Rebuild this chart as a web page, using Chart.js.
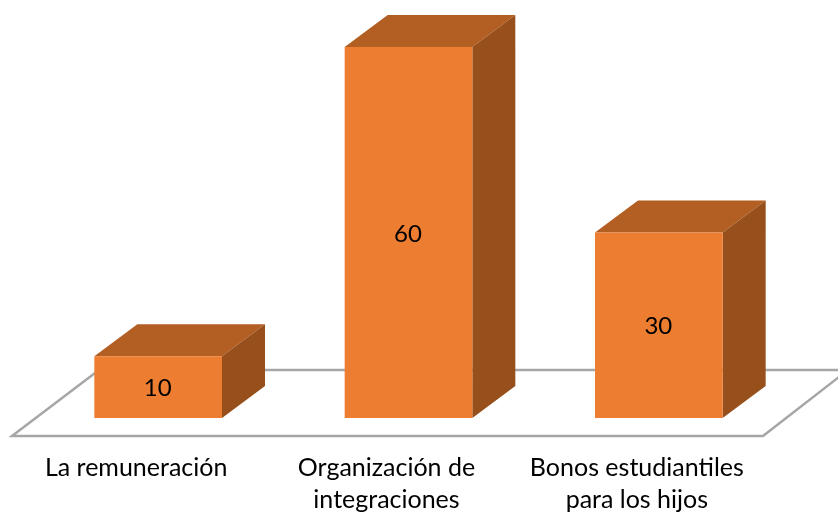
<!DOCTYPE html>
<html>
<head>
<meta charset="utf-8">
<style>
  html, body { margin: 0; padding: 0; background: #fff; }
  canvas { display: block; }
</style>
<script src="https://cdn.jsdelivr.net/npm/chart.js@4"></script>
</head>
<body>
<canvas id="chart" width="838" height="512"></canvas>
<script>
const categories = [['La remuneración'], ['Organización de', 'integraciones'], ['Bonos estudiantiles', 'para los hijos']];
const values = [10, 60, 30];

const depthX = 43;
const depthY = 32;

// 3D look: floor behind the bars, then top and side faces of each bar
const boxes = {
    id: 'boxes',
    beforeDatasetsDraw(chart) {
        const ctx = chart.ctx;
        const area = chart.chartArea;
        const y0 = chart.scales.y.getPixelForValue(0);
        ctx.save();
        ctx.strokeStyle = '#a6a6a6';
        ctx.lineWidth = 2.5;
        ctx.beginPath();
        ctx.moveTo(area.left + 66, y0 - 48);
        ctx.lineTo(area.left - 21, y0 + 18);
        ctx.lineTo(area.right - 21, y0 + 18);
        ctx.lineTo(area.right + 64, y0 - 48);
        ctx.closePath();
        ctx.stroke();
        chart.getDatasetMeta(0).data.forEach(bar => {
            const left = bar.x - bar.width / 2;
            const right = bar.x + bar.width / 2;
            ctx.fillStyle = '#b35e23';
            ctx.beginPath();
            ctx.moveTo(left, bar.y);
            ctx.lineTo(left + depthX, bar.y - depthY);
            ctx.lineTo(right + depthX, bar.y - depthY);
            ctx.lineTo(right, bar.y);
            ctx.closePath();
            ctx.fill();
            ctx.fillStyle = '#97501c';
            ctx.beginPath();
            ctx.moveTo(right, bar.y);
            ctx.lineTo(right + depthX, bar.y - depthY);
            ctx.lineTo(right + depthX, y0 - depthY);
            ctx.lineTo(right, y0);
            ctx.closePath();
            ctx.fill();
        });
        ctx.restore();
    },
    afterDatasetsDraw(chart) {
        const ctx = chart.ctx;
        const y0 = chart.scales.y.getPixelForValue(0);
        ctx.save();
        ctx.fillStyle = '#000';
        ctx.font = '24px Lato';
        ctx.textAlign = 'center';
        ctx.textBaseline = 'middle';
        chart.getDatasetMeta(0).data.forEach((bar, i) => {
            ctx.fillText(values[i], bar.x - 0.5, (bar.y + y0) / 2 + 1.5);
        });
        ctx.restore();
    }
};

new Chart(document.getElementById('chart'), {
    type: 'bar',
    data: {
        labels: categories,
        datasets: [{
            data: values,
            backgroundColor: '#ed7d31',
            barPercentage: 0.51,
            categoryPercentage: 1
        }]
    },
    options: {
        responsive: false,
        animation: false,
        layout: { padding: { left: 33, right: 54, top: 47, bottom: 0 } },
        plugins: { legend: { display: false }, tooltip: { enabled: false } },
        scales: {
            x: {
                grid: { display: false },
                border: { display: false },
                ticks: {
                    color: '#000',
                    font: { family: 'Lato', size: 25, lineHeight: 1.28 },
                    maxRotation: 0,
                    autoSkip: false,
                    padding: 26,
                    labelOffset: -22
                },
                afterFit(axis) { axis.height = 94; }
            },
            y: { display: false, min: 0, max: 60 }
        }
    },
    plugins: [boxes]
});
</script>
</body>
</html>
